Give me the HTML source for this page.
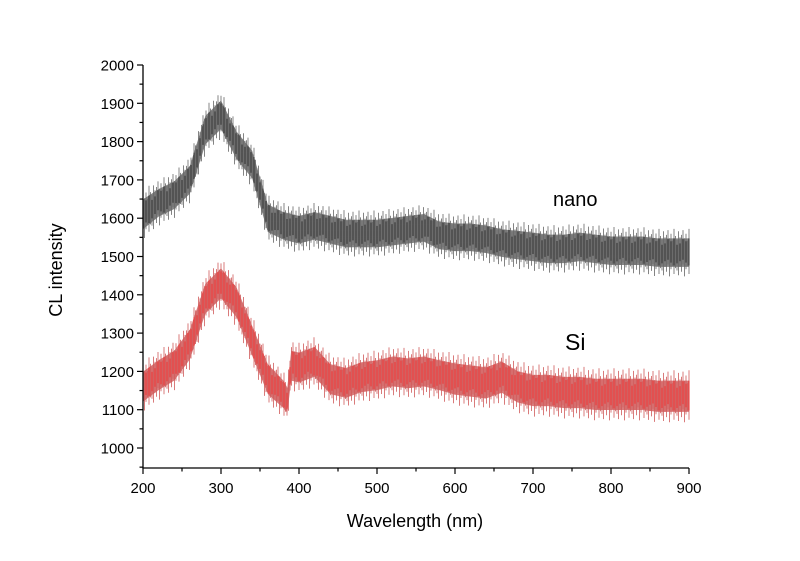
<!DOCTYPE html>
<html><head><meta charset="utf-8"><style>
html,body{margin:0;padding:0;background:#fff;width:800px;height:561px;overflow:hidden}
svg text{font-family:"Liberation Sans",Arial,sans-serif;fill:#000}
</style></head><body>
<svg id="chart" width="800" height="561" viewBox="0 0 800 561">
<g id="plot"></g>
<g id="axes"></g>
<text x="62" y="270" font-size="18" text-anchor="middle" transform="rotate(-90 62 270)">CL intensity</text>
<text x="415" y="527" font-size="18" text-anchor="middle">Wavelength (nm)</text>
<text x="553" y="206" font-size="20" font-family="'DejaVu Sans',sans-serif" style="font-weight:200" fill="#222">nano</text>
<text x="565" y="350" font-size="23" font-family="'DejaVu Sans',sans-serif" style="font-weight:200" fill="#222">Si</text>
</svg>
<script>
const wavelengths=[200,220,240,260,280,300,320,340,360,380,385,390,400,420,440,460,480,500,520,540,560,580,600,620,640,660,680,700,720,740,760,780,800,820,840,860,880,900];
const nanoValues=[1610,1640,1660,1700,1830,1870,1790,1740,1600,1580,1578,1575,1570,1580,1570,1560,1560,1560,1565,1570,1575,1555,1550,1550,1545,1535,1530,1525,1520,1520,1525,1520,1515,1515,1515,1510,1510,1510];
const nanoSpread=[65,60,60,60,62,62,60,60,60,60,60,60,60,60,60,60,60,60,60,60,60,60,60,60,60,60,62,62,62,62,62,62,62,62,62,62,62,62];
const siValues=[1160,1190,1215,1270,1390,1430,1380,1280,1180,1140,1125,1215,1210,1225,1180,1170,1185,1190,1200,1195,1200,1190,1180,1175,1170,1185,1160,1150,1150,1145,1145,1140,1140,1140,1140,1135,1135,1135];
const siSpread=[65,65,65,65,65,65,65,65,65,60,55,65,65,65,65,65,65,65,65,65,65,65,68,68,68,68,68,68,68,68,68,68,68,68,68,68,68,68];
const xTicks=[200,300,400,500,600,700,800,900];
const yTicks=[1000,1100,1200,1300,1400,1500,1600,1700,1800,1900,2000];

const NS='http://www.w3.org/2000/svg';
const X0=143,X1=689,YB=468;
const xS=v=>X0+(v-200)*(X1-X0)/700;
const yS=v=>448-(v-1000)*0.383;
function mk(t,a,p){const e=document.createElementNS(NS,t);for(const k in a)e.setAttribute(k,a[k]);p.appendChild(e);return e;}
function valAt(arr,w){
  for(let i=0;i<wavelengths.length-1;i++){if(w<=wavelengths[i+1]){const f=(w-wavelengths[i])/(wavelengths[i+1]-wavelengths[i]);return arr[i]+(arr[i+1]-arr[i])*f;}}
  return arr[arr.length-1];
}
const plot=document.getElementById('plot');
const pattern=[0.95,0.6,0.8,0.5,1.0,0.7,0.55,0.9,0.65,0.75];
function series(vals,spr,outer,inner,name){
  const g=mk('g',{},plot);
  
  
  let up='',dn='';
  for(let i=0;i<wavelengths.length;i++){
    const x=xS(wavelengths[i]);
    up+=x+','+yS(vals[i]+spr[i]*0.6)+' ';dn=x+','+yS(vals[i]-spr[i]*0.6)+' '+dn;
  }
  const b=mk('polygon',{points:up+dn,fill:outer,opacity:0.8},g);
  
  
  let d='',d2='';let k=0;
  for(let px=X0;px<=X1;px+=1.5,k++){
    const w=200+(px-X0)*700/(X1-X0);
    const v=valAt(vals,w),s=valAt(spr,w);
    const a=pattern[k%10],c=pattern[(k+3)%10];
    d+='M'+px.toFixed(1)+' '+yS(v+s*a).toFixed(1)+'V'+yS(v-s*c).toFixed(1);
    if(k%2==0)d2+='M'+px.toFixed(1)+' '+yS(v+s*0.6*a).toFixed(1)+'V'+yS(v-s*0.6*c).toFixed(1);
  }
  const l=mk('path',{d:d,stroke:outer,'stroke-width':0.8,fill:'none'},g);
  
  
  const l2=mk('path',{d:d2,stroke:inner,'stroke-width':0.9,fill:'none',opacity:0.9},g);
  
  
}
series(nanoValues,nanoSpread,'#666','#111','nano-series');
series(siValues,siSpread,'#d05a5a','#f01818','si-series');

const ax=document.getElementById('axes');
const a1=mk('path',{d:`M${X0} 65V${YB}H${X1}`,stroke:'#000','stroke-width':1.3,fill:'none'},ax);


for(const t of xTicks){
  const x=xS(t);
  mk('line',{x1:x,x2:x,y1:YB,y2:YB+6,stroke:'#000','stroke-width':1.2},ax);
  if(t<900)mk('line',{x1:xS(t+50),x2:xS(t+50),y1:YB,y2:YB+3.5,stroke:'#000','stroke-width':1.2},ax);
  const tx=mk('text',{x:x,y:YB+25,'font-size':15,'text-anchor':'middle'},ax);
  tx.textContent=t;
  
  
}
for(const t of yTicks){
  const y=yS(t);
  mk('line',{x1:X0-6,x2:X0,y1:y,y2:y,stroke:'#000','stroke-width':1.2},ax);
  if(t<2000)mk('line',{x1:X0-3.5,x2:X0,y1:yS(t+50),y2:yS(t+50),stroke:'#000','stroke-width':1.2},ax);
  const tx=mk('text',{x:X0-9,y:y+5.5,'font-size':15,'text-anchor':'end'},ax);
  tx.textContent=t;
  
  
}
mk('line',{x1:X0-3.5,x2:X0,y1:yS(950),y2:yS(950),stroke:'#000','stroke-width':1.2},ax);
</script>
</body></html>
